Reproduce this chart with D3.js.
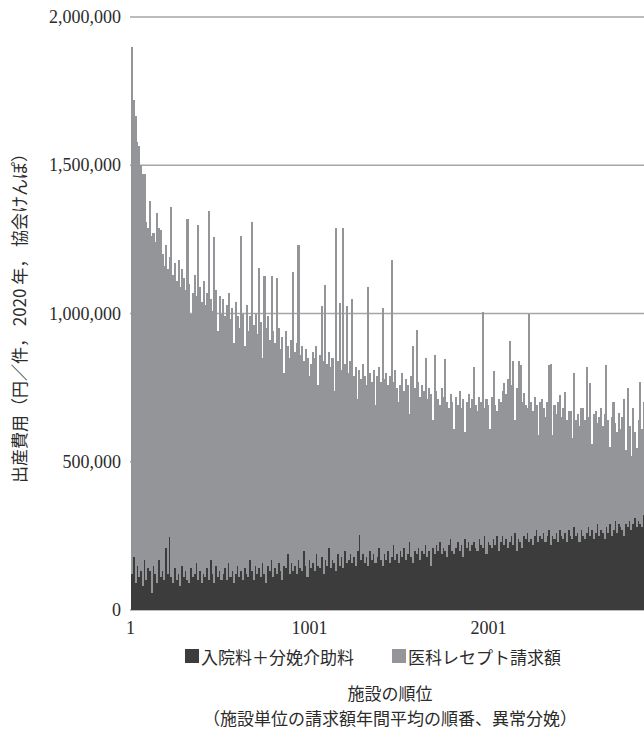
<!DOCTYPE html>
<html><head><meta charset="utf-8">
<script src="https://cdn.jsdelivr.net/npm/d3@7"></script>
<style>
html,body{margin:0;padding:0;background:#fff;}
svg{display:block;}
text{font-family:"Noto Sans CJK JP","Noto Sans",sans-serif;fill:#2b2b2b;}
text.num{font-family:"Liberation Serif","DejaVu Serif",serif;}
</style></head>
<body>
<svg id="chart" width="644" height="729"></svg>
<script>
// ranks grouped in bins of 10 facilities (values in thousand yen)
const binSize = 10;
// total (入院料+分娩介助料 + 医科レセプト請求額), thousand yen
const totalCost = [
1900,1720,1665,1580,1565,1500,1470,1470,1310,1290,
1380,1260,1270,1240,1340,1290,1280,1200,1160,1230,
1150,1190,1360,1130,1170,1110,1180,1090,1150,1120,
1080,1320,1100,1000,1070,1130,1060,1300,1090,1040,
1110,1030,1070,1345,1050,1010,1257,1080,940,1060,
1000,1050,990,1030,1070,980,1020,900,1040,990,
950,1260,1000,890,1030,940,990,1310,960,1000,
930,1155,970,850,1125,950,990,910,1125,940,
900,1120,950,880,920,800,940,890,850,910,
1140,870,900,1230,860,890,840,880,850,790,
830,870,850,890,760,860,1025,840,1095,830,
870,820,850,740,1290,840,1037,810,1290,830,
1025,800,840,1050,790,820,710,810,780,830,
790,760,1090,800,770,810,690,790,820,770,
1020,780,800,760,790,1180,770,810,750,700,
760,800,740,780,760,660,790,890,750,946,
770,720,760,740,850,710,750,730,640,860,
740,710,690,750,720,845,700,680,730,700,
610,720,690,740,680,710,600,700,730,680,
710,818,690,670,720,700,1005,680,710,690,
610,720,805,690,670,710,700,740,767,730,
780,906,760,840,640,750,840,825,700,733,
690,680,1000,700,670,720,690,590,700,710,
680,650,700,825,830,590,690,660,700,725,
650,680,735,640,670,670,580,800,640,660,
620,680,680,640,820,650,765,560,660,670,
630,650,680,620,660,825,640,550,650,700,
630,600,665,610,650,710,540,750,620,520,
680,600,547,640,770,610,700
];
// 入院料+分娩介助料, thousand yen
const inpatientFee = [
120,180,90,150,110,130,80,170,100,140,
130,57,150,120,90,170,110,130,100,210,
120,247,110,90,140,100,120,80,150,110,
130,100,90,140,110,120,160,100,130,90,
120,110,140,100,170,120,90,150,110,130,
100,120,140,100,160,110,130,90,120,150,
110,130,100,140,120,110,170,130,100,150,
120,140,110,160,120,90,150,130,170,110,
140,120,160,130,100,150,140,190,120,160,
130,150,120,170,140,130,200,150,110,170,
140,160,130,190,150,140,180,120,170,150,
210,140,170,160,130,190,150,180,140,200,
160,170,190,160,180,150,200,253,170,190,
160,180,150,200,170,190,160,180,210,170,
150,190,170,200,160,180,220,170,190,160,
200,180,210,170,190,230,180,160,200,190,
210,170,200,190,220,180,200,150,210,190,
220,200,230,190,210,200,180,220,240,200,
190,210,230,200,220,180,240,210,230,200,
220,230,210,200,240,220,210,250,190,230,
220,210,240,220,250,200,230,250,220,240,
210,230,250,220,260,200,240,230,210,250,
240,260,230,240,220,250,270,230,250,240,
260,230,250,270,220,250,240,260,230,270,
250,240,260,230,270,250,240,280,250,260,
230,270,250,240,260,280,250,270,240,260,
290,250,270,260,240,280,260,290,250,270,
300,260,290,280,270,250,290,280,300,270,
290,310,280,300,290,280,320
];
const yTicks = [0, 500000, 1000000, 1500000, 2000000];
const xTicks = [1, 1001, 2001];
const seriesNames = ["入院料＋分娩介助料", "医科レセプト請求額"];
const colors = ["#3c3c3c", "#949599"];

const data = totalCost.map((t, i) => ({
  rank: 1 + i * binSize,
  inpatient: inpatientFee[i] * 1000,
  claim: (t - inpatientFee[i]) * 1000
}));

const svg = d3.select("#chart");
const x = d3.scaleLinear().domain([1, 2867]).range([131, 644]);
const y = d3.scaleLinear().domain([0, 2000000]).range([610, 17]);

// gridlines
svg.append("g").selectAll("line").data(yTicks).join("line")
  .attr("x1", 130).attr("x2", 644)
  .attr("y1", d => y(d)).attr("y2", d => y(d))
  .attr("stroke", "#a6a6a6").attr("stroke-width", 1.5);

const stack = d3.stack().keys(["inpatient", "claim"]);
const layers = stack(data);

svg.append("defs").append("clipPath").attr("id", "clip")
  .append("rect").attr("x", 131).attr("y", 0).attr("width", 513).attr("height", 611);

const g = svg.append("g").attr("clip-path", "url(#clip)");
g.selectAll("g.layer").data(layers).join("g").attr("class", "layer")
  .attr("fill", (d, i) => colors[i])
  .selectAll("rect").data(d => d).join("rect")
  .attr("shape-rendering", "crispEdges")
  .attr("x", d => x(d.data.rank))
  .attr("width", d => x(d.data.rank + binSize) - x(d.data.rank) + 0.3)
  .attr("y", d => y(d[1]))
  .attr("height", d => y(d[0]) - y(d[1]));

// y tick labels
const fmt = d3.format(",");
svg.append("g").selectAll("text").data(yTicks).join("text")
  .attr("class", "num")
  .attr("x", 121).attr("y", d => y(d))
  .attr("text-anchor", "end").attr("dominant-baseline", "central")
  .style("font-size", "18px")
  .text(d => fmt(d));

// x tick labels
svg.append("g").selectAll("text").data(xTicks).join("text")
  .attr("class", "num")
  .attr("x", d => x(d) - 0.5).attr("y", 628)
  .attr("text-anchor", "middle").attr("dominant-baseline", "central")
  .style("font-size", "18px")
  .text(d => d);

// y axis title
svg.append("text")
  .attr("transform", "translate(18,314) rotate(-90)")
  .attr("text-anchor", "middle").attr("dominant-baseline", "central")
  .style("font-size", "17px")
  .text("出産費用（円／件， 2020 年， 協会けんぽ）");

// legend
const legX = [185, 392];
const leg = svg.append("g");
seriesNames.forEach((name, i) => {
  leg.append("rect").attr("x", legX[i]).attr("y", 649).attr("width", 14).attr("height", 14)
    .attr("fill", colors[i]);
  leg.append("text").attr("x", legX[i] + 16).attr("y", 656)
    .attr("dominant-baseline", "central")
    .style("font-size", "17px")
    .text(name);
});

// x axis title
svg.append("text").attr("x", 390).attr("y", 692)
  .attr("text-anchor", "middle").attr("dominant-baseline", "central")
  .style("font-size", "17px").text("施設の順位");
svg.append("text").attr("x", 390).attr("y", 717)
  .attr("text-anchor", "middle").attr("dominant-baseline", "central")
  .style("font-size", "17px").text("（施設単位の請求額年間平均の順番、異常分娩）");
</script>
</body></html>
